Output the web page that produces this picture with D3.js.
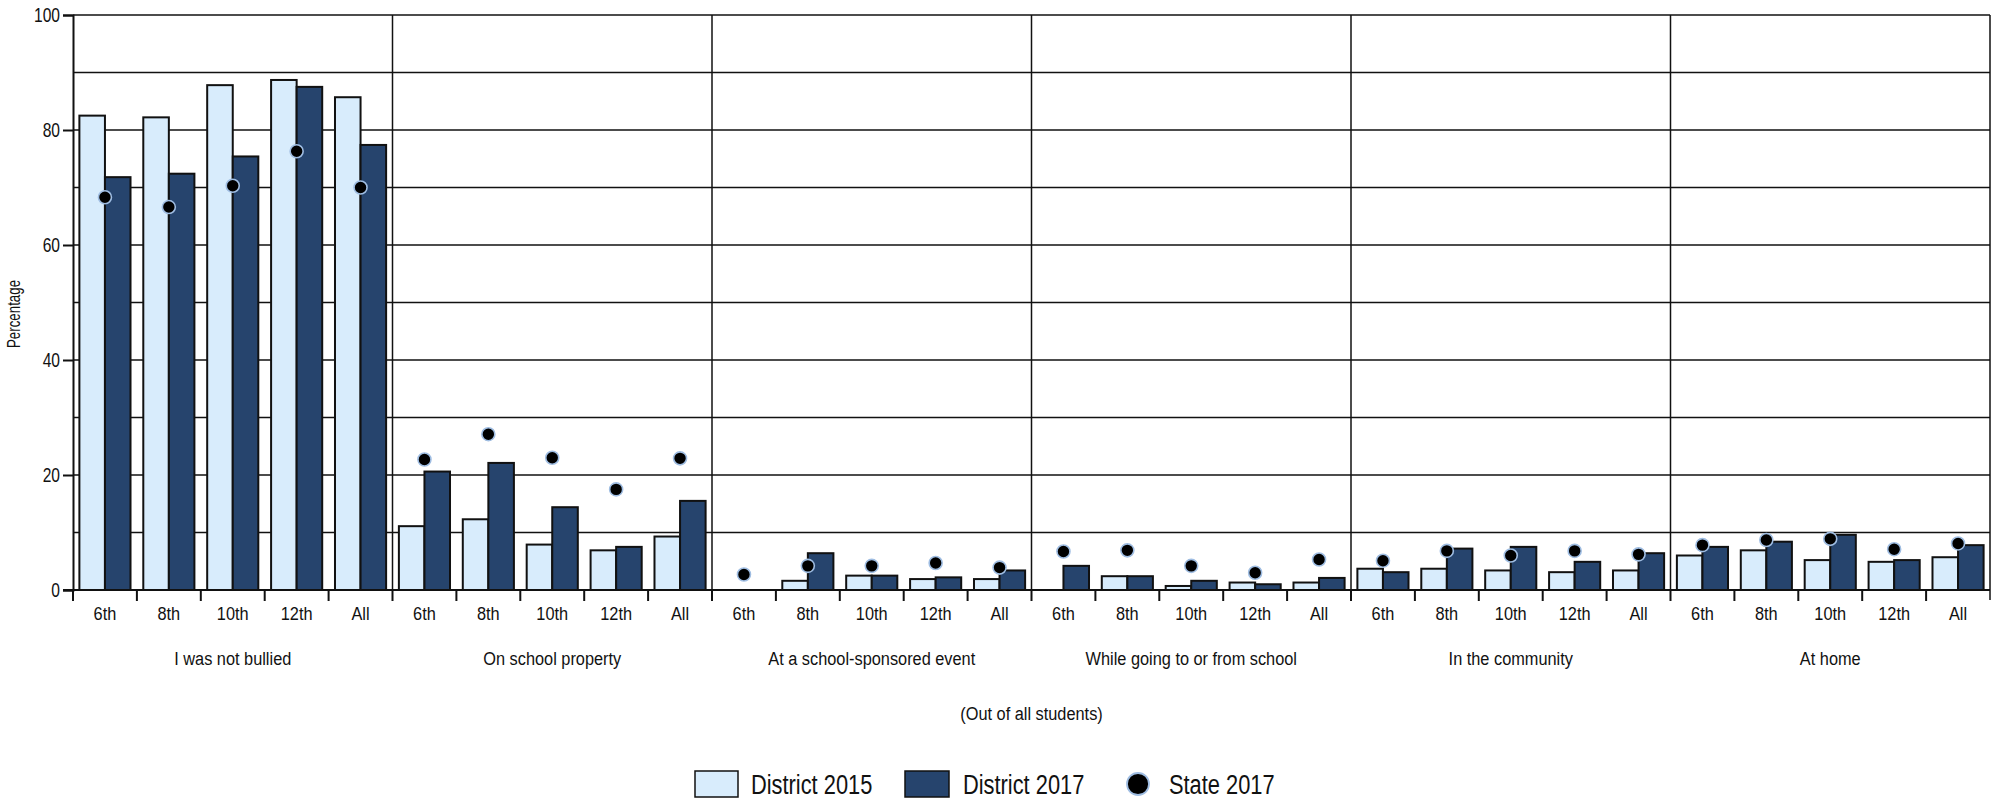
<!DOCTYPE html>
<html>
<head>
<meta charset="utf-8">
<script src="https://cdn.jsdelivr.net/npm/d3@7"></script>
<style>
  html, body { margin: 0; padding: 0; background: #fff; }
  svg text { font-family: "Liberation Sans", Arial, sans-serif; fill: #111; }
</style>
</head>
<body>
<svg id="chart" width="1999" height="801"></svg>
<script>
// ---- data ----
const groups = ["I was not bullied", "On school property", "At a school-sponsored event",
                "While going to or from school", "In the community", "At home"];
const grades = ["6th", "8th", "10th", "12th", "All"];
const yTicks = [0, 20, 40, 60, 80, 100];
const seriesNames = ["District 2015", "District 2017", "State 2017"];

const district2015 = [
  [82.5, 82.2, 87.8, 88.7, 85.7],
  [11.1, 12.3, 7.9, 6.9, 9.3],
  [null, 1.6, 2.5, 1.9, 1.9],
  [null, 2.4, 0.7, 1.3, 1.3],
  [3.7, 3.7, 3.4, 3.1, 3.4],
  [6.0, 6.9, 5.2, 4.9, 5.7]
];
const district2017 = [
  [71.8, 72.4, 75.4, 87.5, 77.4],
  [20.6, 22.1, 14.4, 7.5, 15.5],
  [null, 6.4, 2.5, 2.2, 3.4],
  [4.2, 2.4, 1.6, 1.0, 2.1],
  [3.1, 7.2, 7.5, 4.9, 6.4],
  [7.5, 8.4, 9.6, 5.2, 7.8]
];
const state2017 = [
  [68.3, 66.6, 70.3, 76.3, 70.0],
  [22.7, 27.1, 23.0, 17.5, 22.9],
  [2.7, 4.2, 4.2, 4.7, 3.9],
  [6.7, 6.9, 4.2, 3.0, 5.3],
  [5.1, 6.8, 6.0, 6.8, 6.2],
  [7.8, 8.7, 8.9, 7.1, 8.1]
];

// ---- layout ----
const colors = { light: "#d8ecfc", dark: "#26446d", dotStroke: "#9fbde2" };
const M = { left: 73, right: 1990, top: 15, bottom: 590 };
const svg = d3.select("#chart");

// condensed text helper (horizontal squeeze to mimic a condensed face)
function ctext(parent, x, yy, str, size, k, anchor, rotate) {
  return parent.append("text")
    .attr("transform", `translate(${x},${yy})` + (rotate ? ` rotate(${rotate})` : "") + ` scale(${k},1)`)
    .attr("font-size", size)
    .attr("text-anchor", anchor || "start")
    .text(str);
}

const gx = d3.scaleBand().domain(groups).range([M.left, M.right]).padding(0);
const sx = d3.scaleBand().domain(grades).range([0, gx.bandwidth()]).padding(0);
const bx = d3.scaleBand().domain(["2015", "2017"]).range([0, sx.bandwidth()])
  .paddingInner(0).paddingOuter(0.25);
const y = d3.scaleLinear().domain([0, 100]).range([M.bottom, M.top]);

// gridlines
svg.append("g").selectAll("line").data(d3.range(10, 101, 10)).join("line")
  .attr("x1", M.left).attr("x2", M.right)
  .attr("y1", d => y(d)).attr("y2", d => y(d))
  .attr("stroke", "#111").attr("stroke-width", 1.5);

// group separators and right border
svg.append("g").selectAll("line").data(groups.slice(1)).join("line")
  .attr("x1", d => gx(d)).attr("x2", d => gx(d))
  .attr("y1", M.top).attr("y2", M.bottom)
  .attr("stroke", "#111").attr("stroke-width", 1.5);
svg.append("line").attr("x1", M.right).attr("x2", M.right).attr("y1", M.top).attr("y2", M.bottom + 10)
  .attr("stroke", "#111").attr("stroke-width", 1.5);

// bars
const barData = [];
groups.forEach((g, gi) => grades.forEach((s, si) => {
  barData.push({ g, s, k: "2015", v: district2015[gi][si] });
  barData.push({ g, s, k: "2017", v: district2017[gi][si] });
}));
svg.append("g").selectAll("rect").data(barData.filter(d => d.v != null)).join("rect")
  .attr("x", d => gx(d.g) + sx(d.s) + bx(d.k))
  .attr("y", d => y(d.v))
  .attr("width", bx.bandwidth())
  .attr("height", d => y(0) - y(d.v))
  .attr("fill", d => d.k === "2015" ? colors.light : colors.dark)
  .attr("stroke", "#111").attr("stroke-width", 2);

// dots
const dotData = [];
groups.forEach((g, gi) => grades.forEach((s, si) => dotData.push({ g, s, v: state2017[gi][si] })));
svg.append("g").selectAll("circle").data(dotData).join("circle")
  .attr("cx", d => gx(d.g) + sx(d.s) + sx.bandwidth() / 2)
  .attr("cy", d => y(d.v))
  .attr("r", 6.5)
  .attr("fill", "#000").attr("stroke", colors.dotStroke).attr("stroke-width", 1.6);

// y axis
const yk = 0.78;
const yAxis = svg.append("g").attr("transform", `translate(${M.left},0)`)
  .call(d3.axisLeft(y).tickValues(yTicks).tickSize(10).tickPadding(4).tickFormat(d3.format("d")));
yAxis.select(".domain").attr("stroke", "#111").attr("stroke-width", 2);
yAxis.selectAll(".tick line").attr("stroke", "#111").attr("stroke-width", 2);
yAxis.selectAll(".tick text").attr("font-size", 20).attr("fill", "#111")
  .attr("font-family", "Liberation Sans, Arial, sans-serif")
  .attr("x", -13 / yk).attr("transform", `scale(${yk},1)`);

// x axis baseline
svg.append("line").attr("x1", M.left - 10).attr("x2", M.right).attr("y1", y(0)).attr("y2", y(0))
  .attr("stroke", "#111").attr("stroke-width", 2);

// x ticks at sub-category boundaries
const bounds = [];
groups.forEach(g => grades.forEach(s => bounds.push(gx(g) + sx(s))));
svg.append("g").selectAll("line").data(bounds).join("line")
  .attr("x1", d => d).attr("x2", d => d).attr("y1", y(0)).attr("y2", y(0) + 11)
  .attr("stroke", "#111").attr("stroke-width", 2);

// grade labels
const gl = svg.append("g");
groups.forEach(g => grades.forEach(s =>
  ctext(gl, gx(g) + sx(s) + sx.bandwidth() / 2, 620, s, 19, 0.86, "middle")));

// group labels
const grl = svg.append("g");
groups.forEach(g => ctext(grl, gx(g) + gx.bandwidth() / 2, 665, g, 19, 0.86, "middle"));

// axis titles
ctext(svg, (M.left + M.right) / 2, 720, "(Out of all students)", 19, 0.86, "middle");
ctext(svg, 20, 314, "Percentage", 18, 0.74, "middle", -90);

// legend
const legend = svg.append("g");
const lgY = 784;
legend.append("rect").attr("x", 695).attr("y", lgY - 13).attr("width", 43).attr("height", 26)
  .attr("fill", colors.light).attr("stroke", "#111").attr("stroke-width", 1.5);
ctext(legend, 751, lgY + 10, seriesNames[0], 28, 0.78);
legend.append("rect").attr("x", 905).attr("y", lgY - 13).attr("width", 44).attr("height", 26)
  .attr("fill", colors.dark).attr("stroke", "#111").attr("stroke-width", 1.5);
ctext(legend, 963, lgY + 10, seriesNames[1], 28, 0.78);
legend.append("circle").attr("cx", 1138).attr("cy", lgY).attr("r", 11)
  .attr("fill", "#000").attr("stroke", colors.dotStroke).attr("stroke-width", 1.8);
ctext(legend, 1169, lgY + 10, seriesNames[2], 28, 0.78);
</script>
</body>
</html>
